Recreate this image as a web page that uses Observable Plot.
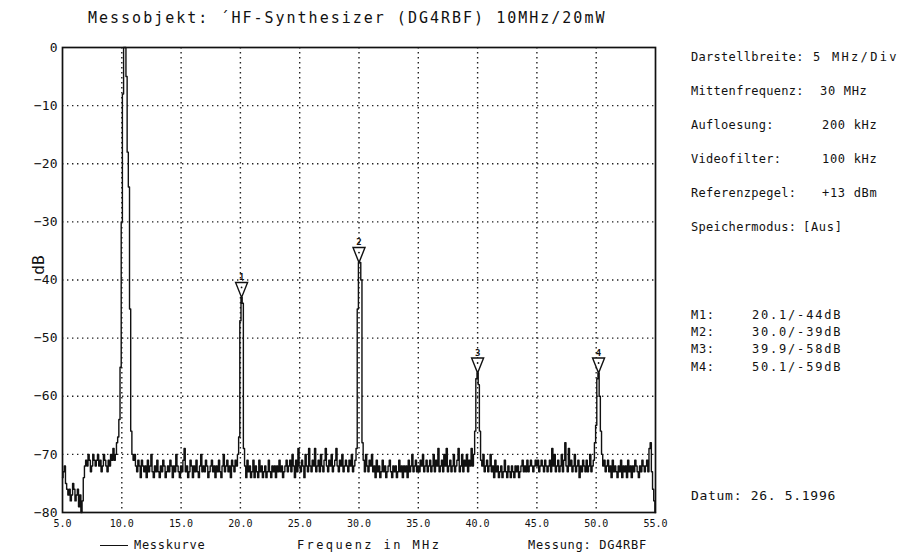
<!DOCTYPE html>
<html><head><meta charset="utf-8">
<script src="https://cdn.jsdelivr.net/npm/d3@7"></script>
<script src="https://cdn.jsdelivr.net/npm/@observablehq/plot@0.6"></script>
<style>
body{margin:0;background:#fff;}
#wrap{position:relative;width:918px;height:557px;font-family:"DejaVu Sans Mono",monospace;color:#111;overflow:hidden;}
#wrap svg{position:absolute;left:0;top:0;}
.t{position:absolute;white-space:pre;line-height:1;}
.r{font-size:12px;letter-spacing:0.7px;}
</style></head><body><div id="wrap"></div>
<script>
// sweep: 5.0 MHz start, 0.1 MHz per sample (one row = 1 MHz)
const freqStart = 5.0;
const freqStep = 0.1;
const levelDb = [
  -74,-73,-72,-75,-76,-77,-76,-78,-77,-75,
  -76,-78,-77,-76,-79,-77,-80,-78,-74,-72,
  -71,-72,-70,-71,-73,-72,-70,-71,-72,-71,
  -70,-72,-71,-73,-72,-70,-71,-72,-73,-71,
  -72,-70,-71,-69,-71,-70,-68,-67,-64,-55,
  -30,-8,0,0,-5,-18,-24,-45,-66,-70,
  -71,-70,-72,-73,-71,-72,-74,-71,-72,-73,
  -72,-74,-71,-73,-72,-70,-73,-74,-72,-73,
  -71,-73,-74,-72,-73,-71,-72,-74,-73,-72,
  -73,-71,-72,-74,-72,-73,-70,-72,-73,-74,
  -72,-73,-71,-69,-73,-72,-74,-73,-71,-72,
  -74,-72,-73,-71,-73,-74,-72,-70,-73,-72,
  -73,-71,-72,-74,-73,-72,-71,-73,-72,-74,
  -72,-73,-71,-73,-74,-72,-70,-73,-72,-71,
  -73,-72,-74,-71,-72,-73,-71,-72,-70,-67,
  -47,-43,-44,-69,-72,-74,-71,-73,-72,-74,
  -73,-71,-74,-72,-73,-74,-71,-73,-72,-74,
  -73,-72,-74,-73,-71,-73,-74,-72,-73,-72,
  -74,-72,-73,-71,-73,-72,-74,-73,-72,-71,
  -73,-72,-71,-73,-70,-72,-74,-71,-73,-69,
  -72,-73,-71,-72,-74,-70,-72,-73,-69,-72,
  -73,-71,-72,-69,-73,-72,-71,-73,-70,-72,
  -73,-71,-69,-72,-73,-71,-72,-70,-73,-72,
  -71,-69,-72,-73,-71,-72,-70,-73,-72,-71,
  -72,-73,-71,-72,-70,-73,-72,-71,-69,-45,
  -37,-37,-40,-68,-71,-73,-70,-72,-73,-71,
  -72,-70,-73,-72,-74,-71,-73,-72,-74,-73,
  -71,-73,-72,-74,-73,-72,-71,-73,-74,-72,
  -73,-72,-74,-73,-71,-73,-72,-74,-72,-73,
  -72,-74,-71,-73,-72,-70,-73,-72,-71,-73,
  -72,-73,-71,-72,-70,-73,-72,-71,-73,-72,
  -71,-73,-72,-70,-73,-71,-72,-69,-73,-72,
  -71,-73,-70,-72,-69,-73,-72,-71,-73,-72,
  -70,-73,-72,-71,-69,-73,-72,-70,-73,-71,
  -72,-70,-73,-71,-72,-69,-72,-70,-66,-57,
  -56,-58,-66,-71,-72,-70,-73,-72,-71,-73,
  -72,-70,-73,-72,-74,-71,-73,-72,-74,-73,
  -72,-74,-73,-71,-73,-74,-72,-73,-74,-72,
  -73,-74,-72,-73,-72,-74,-73,-72,-71,-73,
  -72,-73,-71,-73,-72,-71,-72,-73,-72,-71,
  -72,-71,-73,-72,-71,-72,-73,-71,-72,-73,
  -72,-71,-73,-69,-72,-70,-73,-72,-71,-73,
  -72,-70,-73,-71,-68,-72,-73,-69,-72,-71,
  -73,-72,-70,-73,-72,-71,-74,-72,-73,-71,
  -72,-73,-71,-73,-72,-70,-73,-72,-71,-68,
  -65,-57,-56,-60,-66,-70,-72,-71,-73,-72,
  -71,-73,-72,-74,-71,-73,-72,-73,-74,-72,
  -73,-71,-74,-72,-73,-72,-74,-71,-73,-72,
  -74,-72,-73,-71,-72,-73,-74,-72,-73,-71,
  -72,-73,-72,-71,-73,-69,-68,-73,-76,-78,
  -80
];
const xTicks = [5, 10, 15, 20, 25, 30, 35, 40, 45, 50, 55];
const yTicks = [0, -10, -20, -30, -40, -50, -60, -70, -80];
const markerLabels = ["1", "2", "3", "4"];
const markerFreq = [20.1, 30.0, 40.0, 50.2];
const markerDb = [-43, -37, -56, -56];

const titleText = "Messobjekt: \u00B4HF-Synthesizer (DG4RBF) 10MHz/20mW";
const infoLabels = ["Darstellbreite:", "Mittenfrequenz:", "Aufloesung:", "Videofilter:", "Referenzpegel:", "Speichermodus:"];
const infoValues = ["5 MHz/Div", "30 MHz", "200 kHz", "100 kHz", "+13 dBm", "[Aus]"];
const mLabels = ["M1:", "M2:", "M3:", "M4:"];
const mValues = ["20.1/-44dB", "30.0/-39dB", "39.9/-58dB", "50.1/-59dB"];
const dateText = "Datum: 26. 5.1996";
const legendText = "Messkurve";
const xLabel = "Frequenz in MHz";
const yLabel = "dB";
const footerText = "Messung: DG4RBF";

const trace = levelDb.map((d, i) => ({f: +(freqStart + i * freqStep).toFixed(1), db: d}));
const markers = markerLabels.map((l, i) => ({label: l, f: markerFreq[i], db: markerDb[i]}));

// down-pointing marker triangle with its apex at the data point
const markerSymbol = {
  draw(ctx) { ctx.moveTo(-6, -15); ctx.lineTo(6, -15); ctx.lineTo(0, 0); ctx.closePath(); }
};

const chart = Plot.plot({
  width: 918, height: 557,
  marginLeft: 62, marginRight: 263, marginTop: 47, marginBottom: 45,
  x: {domain: [5, 55]},
  y: {domain: [-80, 0]},
  style: {fontFamily: "DejaVu Sans Mono", background: "white", color: "#111"},
  marks: [
    Plot.ruleX(xTicks.slice(1, -1), {stroke: "#222", strokeWidth: 1.4, strokeDasharray: "1.4,3.6"}),
    Plot.ruleY(yTicks.slice(1, -1), {stroke: "#222", strokeWidth: 1.4, strokeDasharray: "1.4,3.6"}),
    Plot.line(trace, {x: "f", y: "db", curve: "step", stroke: "#111", strokeWidth: 1.4}),
    Plot.dot(markers, {x: "f", y: "db", symbol: markerSymbol, r: 5, fill: "white", stroke: "#111", strokeWidth: 1.4}),
    Plot.dot(markers, {x: "f", y: "db", r: 0.9, dy: -10, fill: "#111"}),
    Plot.text(markers, {x: "f", y: "db", text: "label", dy: -20, fontSize: 9, fontWeight: "bold", fill: "#111"}),
    Plot.frame({stroke: "#111", strokeWidth: 1.7}),
    Plot.axisX(xTicks, {tickSize: 0, tickPadding: 7, fontSize: 10, tickFormat: d => d.toFixed(1), label: null}),
    Plot.axisY(yTicks, {tickSize: 0, tickPadding: 5, fontSize: 13, label: null})
  ]
});
const wrap = document.getElementById("wrap");
wrap.appendChild(chart);

function addText(txt, left, top, cls, extra) {
  const d = document.createElement("div");
  d.className = "t " + (cls || "");
  d.textContent = txt;
  d.style.left = left + "px";
  d.style.top = top + "px";
  if (extra) Object.assign(d.style, extra);
  wrap.appendChild(d);
  return d;
}
addText(titleText, 88, 11, "", {fontSize: "15px", letterSpacing: "2px"});
const rowTops = [51, 85, 119, 153, 187, 221];
const valueLeft = [813, 820, 822, 822, 822, 803];
infoLabels.forEach((l, i) => addText(l, 691, rowTops[i], "r", {letterSpacing: "0.3px"}));
infoValues.forEach((v, i) => addText(v, valueLeft[i], rowTops[i], "r", i === 0 ? {letterSpacing: "2.3px"} : {}));
const mTops = [309, 326, 343, 361];
mLabels.forEach((l, i) => addText(l, 691, mTops[i], "r"));
mValues.forEach((v, i) => addText(v, 752, mTops[i], "r", {letterSpacing: "1.8px"}));
addText(dateText, 691, 489, "r", {fontSize: "13px"});
// legend
const ln = document.createElement("div");
Object.assign(ln.style, {position: "absolute", left: "100px", top: "545px", width: "28px", borderTop: "1.6px solid #111"});
wrap.appendChild(ln);
addText(legendText, 134, 539, "r");
addText(xLabel, 297, 539, "r", {letterSpacing: "2.4px"});
addText(footerText, 528, 539, "r");
addText(yLabel, 29, 257, "", {fontSize: "16px", transform: "rotate(-90deg)", transformOrigin: "center"});
</script></body></html>
